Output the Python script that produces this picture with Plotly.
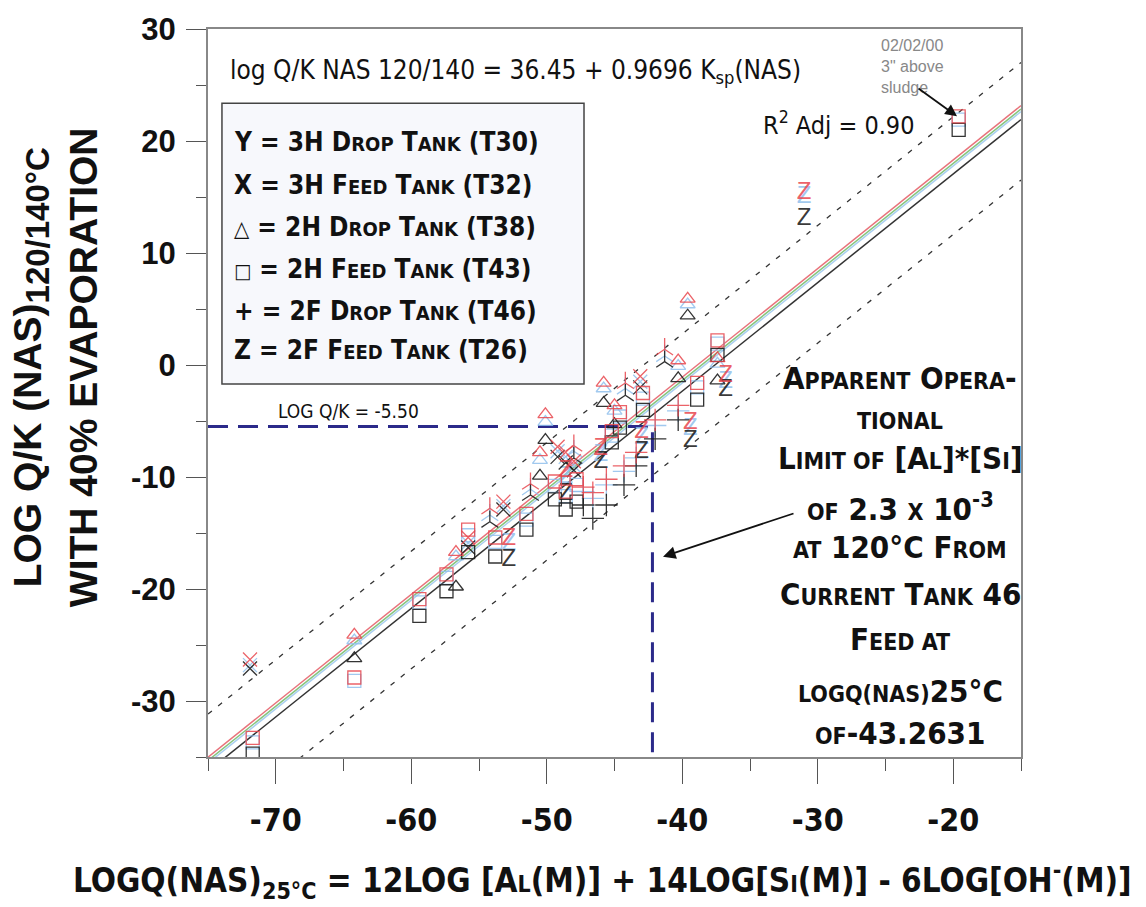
import plotly.graph_objects as go

# ---------------- data ----------------
# x = logQ(NAS) 25C ; y values for the three model variants (red / light blue / black)
y30_x     = [-54.2, -51.2, -48.0, -44.2, -41.3]
y30_red   = [-12.8, -10.6, -7.2, -1.6, 1.4]
y30_blue  = [-13.4, -11.1, -7.7, -2.1, 0.8]
y30_black = [-14.0, -11.6, -8.3, -2.7, 0.3]

x32_x     = [-71.9, -55.8, -53.2, -49.2, -48.6, -48.0, -43.1]
x32_red   = [-26.3, -15.4, -12.2, -7.3, -7.8, -8.6, -1.0]
x32_blue  = [-26.8, -15.9, -12.6, -7.7, -8.2, -9.0, -1.5]
x32_black = [-27.1, -16.3, -12.9, -8.2, -8.7, -9.4, -2.0]

t38_x     = [-64.2, -56.7, -50.5, -50.1, -45.8, -45.0, -40.3, -39.6, -37.4]
t38_red   = [-24.1, -16.7, -7.8, -4.4, -1.6, -3.6, 0.4, 5.9, 0.6]
t38_blue  = [-24.6, -17.1, -8.5, -5.1, -2.1, -4.1, -0.1, 5.4, 0.1]
t38_black = [-26.2, -19.8, -9.9, -6.7, -3.4, -5.3, -1.2, 4.4, -1.4]

t43_x     = [-71.7, -64.2, -59.4, -57.4, -55.8, -53.8, -51.5, -49.4, -48.6, -47.8, -45.2,
             -44.6, -42.9, -38.9, -37.4, -19.6]
t43_red   = [-33.3, -27.9, -20.9, -18.7, -14.7, -15.4, -13.3, -10.4, -11.3, -10.2, -5.9,
             -4.2, -2.5, -1.6, 2.2, 22.2]
t43_blue  = [-33.7, -28.2, -21.2, -19.0, -15.2, -15.8, -13.8, -10.8, -11.7, -10.7, -6.3,
             -4.6, -3.0, -2.0, 1.9, 21.9]
t43_black = [-34.7, None, -22.4, -20.2, -16.7, -17.1, -14.7, -12.0, -12.9, -12.2, -6.9,
             -5.6, -4.0, -3.1, 0.9, 21.0]

t46_x     = [-47.3, -46.6, -45.6, -44.3, -43.4, -42.0, -40.3]
t46_red   = [-10.9, -11.4, -10.2, -9.0, -7.8, -4.9, -3.6]
t46_blue  = [-11.3, -11.9, -10.7, -9.5, -8.3, -5.4, -4.1]
t46_black = [-12.5, -13.7, -12.5, -10.7, -9.0, -6.6, -4.9]

t26_x     = [-52.8, -48.6, -46.0, -43.0, -39.4, -36.8, -31.0]
t26_red   = [-15.5, -9.5, -7.5, -6.0, -5.2, -1.0, 15.4]
t26_blue  = [-16.0, -10.0, -8.0, -6.5, -5.7, -1.5, 15.0]
t26_black = [-17.4, -11.5, -8.7, -7.8, -6.8, -2.2, 13.0]

# regression: log Q/K = intercept + slope * logQ ; black is the reported fit
fit_slope = 0.9696
fit_intercepts = {"red": 37.70, "green": 37.40, "blue": 37.17, "black": 36.45}
band_offsets = [5.1, -5.4]
x_range = [-75, -15]
y_range = [-35, 30]
limit_logqk = -5.50
limit_logq = -42.2

x_tick_vals = [-70, -60, -50, -40, -30, -20]
x_tick_text = ["-70", "-60", "-50", "-40", "-30", "-20"]
y_tick_vals = [30, 20, 10, 0, -10, -20, -30]
y_tick_text = ["30", "20", "10", "0", "-10", "-20", "-30"]

# ---------------- styling ----------------
NARROW = "Liberation Sans Narrow, Arial Narrow, DejaVu Sans Condensed, sans-serif"
ARIAL = "Liberation Sans, Arial, sans-serif"
C_RED = "rgba(232,70,78,0.85)"
C_BLUE = "rgba(145,192,236,0.85)"
C_BLACK = "rgba(30,30,30,0.9)"

fig = go.Figure()

# fit lines
line_cols = {"red": "#e8737b", "green": "#86c47e", "blue": "#a9cff0", "black": "#333333"}
for key in ["blue", "green", "red", "black"]:
    b = fit_intercepts[key]
    fig.add_trace(go.Scatter(x=x_range, y=[b + fit_slope * v for v in x_range], mode="lines",
                             line=dict(color=line_cols[key], width=1.5), hoverinfo="skip",
                             showlegend=False))
for off in band_offsets:
    b = fit_intercepts["black"] + off
    fig.add_trace(go.Scatter(x=x_range, y=[b + fit_slope * v for v in x_range], mode="lines",
                             line=dict(color="#333333", width=1.3, dash="5px,8px"),
                             hoverinfo="skip", showlegend=False))

# limit reference lines
fig.add_trace(go.Scatter(x=[x_range[0], limit_logq, limit_logq], y=[limit_logqk, limit_logqk, y_range[0]],
                         mode="lines", line=dict(color="#2b2a8a", width=3, dash="20px,10px"),
                         hoverinfo="skip", showlegend=False))

series = [
    ("y-up", y30_x, y30_red, y30_blue, y30_black, 14),
    ("x-thin", x32_x, x32_red, x32_blue, x32_black, 14),
    ("triangle-up-open", t38_x, t38_red, t38_blue, t38_black, 13),
    ("square-open", t43_x, t43_red, t43_blue, t43_black, 13),
    ("cross-thin", t46_x, t46_red, t46_blue, t46_black, 16),
]
z_sets = {2: t26_red, 3: t26_blue, 4: t26_black}
for color_idx, col in [(3, C_BLUE), (4, C_BLACK), (2, C_RED)]:
    for s in series:
        sym, xs, size = s[0], s[1], s[5]
        ys = s[color_idx]
        fig.add_trace(go.Scatter(x=xs, y=ys, mode="markers",
                                 marker=dict(symbol=sym, size=size, color=col,
                                             line=dict(color=col, width=1.3)),
                                 hoverinfo="skip", showlegend=False))
    fig.add_trace(go.Scatter(x=t26_x, y=z_sets[color_idx], mode="text", text=["Z"] * len(t26_x),
                             textfont=dict(family=ARIAL, size=24, color=col),
                             hoverinfo="skip", showlegend=False))

# legend box
fig.add_shape(type="rect", xref="x", yref="y", x0=-73.97, x1=-47.25, y0=-1.7, y1=23.37,
              line=dict(color="#444444", width=1.5), fillcolor="rgba(247,248,252,1)", layer="below")


def sc(big, small, ss):
    return f"{big}<span style='font-size:{ss}px'>{small}</span>"


def legline(sym, tank, word, t):
    a = sc(word[0], word[1:].upper(), 20)
    return f"<b>{sym} = {tank} {a} {sc('T', 'ANK', 20)} ({t})</b>"


legend_lines = [
    legline("Y", "3H", "Drop", "T30"),
    legline("X", "3H", "Feed", "T32"),
    legline("<span style='font-size:22px;font-weight:normal'>△</span>", "2H", "Drop", "T38"),
    legline("<span style='font-size:20px;font-weight:normal'>□</span>", "2H", "Feed", "T43"),
    legline("+", "2F", "Drop", "T46"),
    legline("Z", "2F", "Feed", "T26"),
]
leg_y_px = [139, 182, 225, 267, 309, 349]


def py2y(p):
    return (363.8 - p) / 11.29


def px2x(p):
    return (p - 208) / 13.55 - 75


annotations = []
for txt, p in zip(legend_lines, leg_y_px):
    annotations.append(dict(x=px2x(232), y=py2y(p), xref="x", yref="y", text=txt, showarrow=False,
                            xanchor="left", yanchor="middle",
                            font=dict(family=NARROW, size=26, color="#111111")))

# equation text
annotations.append(dict(x=px2x(515), y=py2y(68), xref="x", yref="y",
                        text="log Q/K NAS 120/140 = 36.45 + 0.9696 K<sub>sp</sub>(NAS)",
                        showarrow=False, font=dict(family=NARROW, size=26, color="#111111")))
annotations.append(dict(x=px2x(838), y=py2y(120), xref="x", yref="y",
                        text="R<sup>2</sup> Adj = 0.90", showarrow=False,
                        font=dict(family=NARROW, size=25, color="#111111")))
annotations.append(dict(x=px2x(276), y=py2y(410), xref="x", yref="y",
                        text="LOG Q/K = -5.50", showarrow=False, xanchor="left", yanchor="middle",
                        font=dict(family=NARROW, size=19, color="#111111")))
# sludge note
annotations.append(dict(x=px2x(879), y=py2y(63), xref="x", yref="y",
                        text="02/02/00<br>3\" above<br>sludge", showarrow=False, xanchor="left",
                        yanchor="middle", align="left",
                        font=dict(family=ARIAL, size=16, color="#888888")))
annotations.append(dict(x=px2x(957), y=py2y(113), ax=px2x(917), ay=py2y(84), xref="x", yref="y",
                        axref="x", ayref="y", text="", showarrow=True, arrowhead=2, arrowsize=1.3,
                        arrowwidth=1.8, arrowcolor="#111111"))
annotations.append(dict(x=px2x(663), y=py2y(557), ax=px2x(795), ay=py2y(513), xref="x", yref="y",
                        axref="x", ayref="y", text="", showarrow=True, arrowhead=2, arrowsize=1.4,
                        arrowwidth=1.8, arrowcolor="#111111"))

B, S = 31, 23


def s(t):
    return f"<span style='font-size:{S}px'>{t}</span>"


right_lines = [
    f"A{s('PPARENT')} O{s('PERA')}-",
    f"{s('TIONAL')}",
    f"L{s('IMIT OF')} [A{s('L')}]*[S{s('I')}]",
    f"{s('OF')} 2.3 {s('X')} 10<sup>-3</sup>",
    f"{s('AT')} 120°C F{s('ROM')}",
    f"C{s('URRENT')} T{s('ANK')} 46",
    f"F{s('EED AT')}",
    f"{s('LOGQ(NAS)')}25°C",
    f"{s('OF')}-43.2631",
]
right_y_px = [377, 420, 458, 507, 547, 595, 640, 692, 735]
for txt, p in zip(right_lines, right_y_px):
    annotations.append(dict(x=px2x(900), y=py2y(p), xref="x", yref="y", text=f"<b>{txt}</b>",
                            showarrow=False, yanchor="middle",
                            font=dict(family=NARROW, size=B, color="#111111")))

# axis titles
annotations.append(dict(x=-0.218, y=0.535, xref="paper", yref="paper", textangle=-90,
                        xanchor="center", yanchor="middle",
                        text="<b>LOG Q/K (NAS)<sub><span style='font-size:33px'>120/140°C</span></sub></b>",
                        showarrow=False, font=dict(family=ARIAL, size=39, color="#111111")))
annotations.append(dict(x=-0.153, y=0.535, xref="paper", yref="paper", textangle=-90,
                        xanchor="center", yanchor="middle",
                        text="<b>WITH 40% EVAPORATION</b>", showarrow=False,
                        font=dict(family=ARIAL, size=39, color="#111111")))
xt = (f"<b>LOGQ(NAS)<sub>25°C</sub> = 12LOG [A<span style='font-size:23px'>L</span>(M)] + "
      f"14LOG[S<span style='font-size:23px'>I</span>(M)] - 6LOG[OH<sup>-</sup>(M)]</b>")
annotations.append(dict(x=0.485, y=-0.17, xref="paper", yref="paper", text=xt, showarrow=False,
                        xanchor="center", yanchor="middle",
                        font=dict(family=NARROW, size=33, color="#111111")))

fig.update_layout(
    width=1146, height=907,
    margin=dict(l=208, r=125, t=24, b=150),
    paper_bgcolor="white", plot_bgcolor="white",
    showlegend=False,
    annotations=annotations,
    xaxis=dict(range=x_range, tickvals=x_tick_vals, ticktext=x_tick_text, ticks="outside",
               ticklen=25, tickwidth=1.2,
               tickcolor="#555555", showline=True, linecolor="#888888", linewidth=2, mirror=True,
               showgrid=False, zeroline=False, ticklabelstandoff=9,
               tickfont=dict(family=NARROW, size=32, color="#111111", weight="bold"),
               minor=dict(dtick=5, tick0=-75, ticks="outside", ticklen=12, tickcolor="#555555",
                          tickwidth=1.2)),
    yaxis=dict(range=y_range, tickvals=y_tick_vals, ticktext=y_tick_text, ticks="outside",
               ticklen=20, tickwidth=1.2,
               tickcolor="#555555", showline=True, linecolor="#888888", linewidth=2, mirror=True,
               showgrid=False, zeroline=False, ticklabelstandoff=4,
               tickfont=dict(family=ARIAL, size=31, color="#111111", weight="bold"),
               minor=dict(dtick=5, tick0=-35, ticks="outside", ticklen=10, tickcolor="#555555",
                          tickwidth=1.2)),
)

fig.write_html("out.html")
